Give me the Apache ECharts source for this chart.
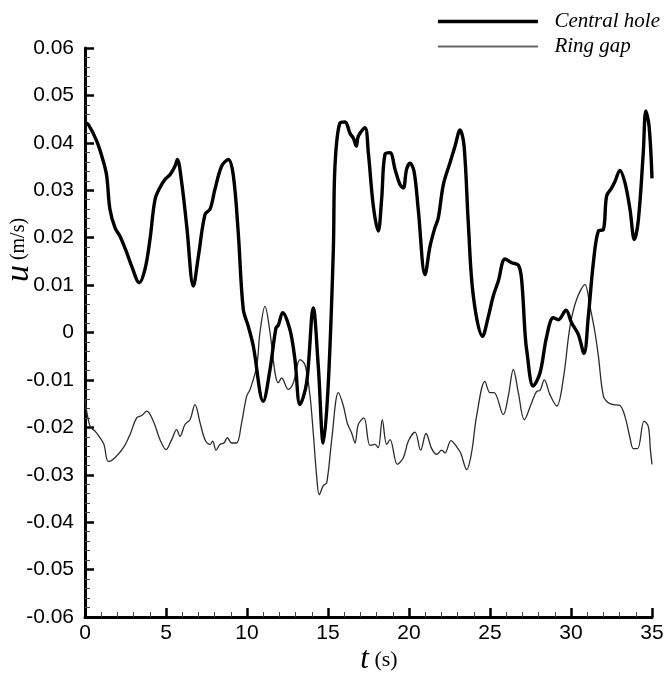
<!DOCTYPE html>
<html>
<head>
<meta charset="utf-8">
<script src="https://cdn.jsdelivr.net/npm/echarts@6/dist/echarts.min.js"></script>
<style>html,body{margin:0;padding:0;background:#fff;}#c{width:668px;height:676px;}</style>
</head>
<body>
<div id="c"></div>
<script>
const xTicks = [0, 5, 10, 15, 20, 25, 30, 35];
const yTicks = [-0.06, -0.05, -0.04, -0.03, -0.02, -0.01, 0, 0.01, 0.02, 0.03, 0.04, 0.05, 0.06];

const tCentral = [0, 0.2, 0.72, 1.13, 1.34, 1.54, 1.85, 2.16, 2.57, 2.88, 3.35, 3.70, 4.01, 4.32, 4.63, 4.94, 5.25, 5.56, 5.70, 5.97, 6.28, 6.69, 7.0, 7.41, 7.72, 8.02, 8.44, 8.85, 9.16, 9.46, 9.77, 10.08, 10.39, 11.0, 11.42, 11.79, 11.93, 12.2, 12.65, 12.96, 13.27, 13.68, 14.09, 14.40, 14.71, 15.02, 15.33, 15.43, 15.74, 16.05, 16.36, 16.56, 16.75, 16.87, 17.28, 17.49, 17.80, 18.1, 18.31, 18.52, 18.83, 19.14, 19.44, 19.65, 19.85, 20.06, 20.31, 20.57, 20.99, 21.3, 21.6, 21.81, 22.12, 22.53, 22.84, 23.15, 23.40, 23.66, 23.97, 24.54, 24.90, 25.2, 25.51, 25.93, 26.34, 26.75, 26.95, 27.16, 27.26, 27.67, 28.09, 28.5, 28.91, 29.22, 29.69, 30.04, 30.45, 30.80, 31.07, 31.38, 31.69, 32.0, 32.2, 32.51, 32.72, 33.02, 33.33, 33.64, 33.91, 34.16, 34.46, 34.62, 34.82, 35.0];
const uCentral = [0.0442, 0.0439, 0.0404, 0.0361, 0.033, 0.026, 0.0221, 0.0203, 0.0169, 0.014, 0.0105, 0.0133, 0.0196, 0.028, 0.0306, 0.0323, 0.0333, 0.0351, 0.0365, 0.0316, 0.0224, 0.0098, 0.0161, 0.0249, 0.026, 0.0302, 0.0351, 0.0365, 0.033, 0.021, 0.0049, 0.0013, -0.0029, -0.0145, -0.0078, 0.001, 0.0015, 0.0042, 0.0006, -0.0057, -0.0152, -0.0106, 0.0052, -0.0071, -0.0233, -0.0106, 0.0175, 0.0351, 0.0442, 0.0444, 0.042, 0.041, 0.0393, 0.0414, 0.0432, 0.0379, 0.0266, 0.0214, 0.0281, 0.0376, 0.0379, 0.0344, 0.0312, 0.0305, 0.0344, 0.0357, 0.034, 0.026, 0.0122, 0.0182, 0.0221, 0.0242, 0.0312, 0.0358, 0.0393, 0.0427, 0.0393, 0.0231, 0.0077, -0.0008, 0.0034, 0.0077, 0.0108, 0.0155, 0.0147, 0.0142, 0.0112, 0.0, -0.0036, -0.0113, -0.0085, -0.0008, 0.0031, 0.0027, 0.0047, 0.002, -0.0004, -0.0044, 0.0034, 0.0147, 0.0214, 0.0217, 0.0288, 0.0305, 0.0319, 0.0342, 0.0316, 0.026, 0.0196, 0.0238, 0.0379, 0.0467, 0.0435, 0.0325];

const tRing = [0, 0.31, 0.62, 0.93, 1.17, 1.44, 1.85, 2.37, 2.78, 3.19, 3.50, 3.81, 4.22, 4.63, 5.0, 5.35, 5.66, 5.86, 6.17, 6.48, 6.79, 7.1, 7.41, 7.72, 7.88, 8.09, 8.33, 8.58, 8.79, 9.05, 9.36, 9.67, 9.98, 10.19, 10.6, 10.8, 11.11, 11.42, 11.73, 11.93, 12.14, 12.55, 12.86, 13.27, 13.58, 13.89, 14.09, 14.30, 14.46, 14.71, 14.92, 15.23, 15.64, 15.95, 16.2, 16.46, 16.67, 16.87, 17.22, 17.59, 17.90, 18.1, 18.35, 18.62, 18.83, 19.28, 19.65, 19.96, 20.37, 20.72, 21.05, 21.40, 21.71, 22.02, 22.22, 22.59, 22.94, 23.19, 23.56, 23.86, 24.17, 24.69, 25.0, 25.25, 25.82, 26.13, 26.44, 26.75, 27.12, 27.57, 27.88, 28.09, 28.35, 28.70, 29.12, 29.52, 29.94, 30.35, 30.86, 31.17, 31.48, 31.69, 32.0, 32.3, 32.61, 33.02, 33.33, 33.64, 33.85, 34.11, 34.51, 34.77, 34.9, 35.0];
const uRing = [-0.0141, -0.0198, -0.0208, -0.0222, -0.0236, -0.0272, -0.0264, -0.0243, -0.0215, -0.018, -0.0175, -0.0166, -0.0187, -0.0226, -0.0247, -0.0226, -0.0205, -0.0219, -0.0194, -0.0184, -0.0152, -0.019, -0.0226, -0.0236, -0.0229, -0.0248, -0.0236, -0.0233, -0.0222, -0.0233, -0.0233, -0.019, -0.0134, -0.012, -0.0071, 0.0, 0.0055, 0.0, -0.0085, -0.0106, -0.0096, -0.012, -0.0106, -0.0057, -0.0068, -0.0134, -0.0212, -0.0303, -0.0342, -0.0323, -0.0317, -0.0226, -0.0127, -0.0155, -0.0192, -0.0212, -0.0233, -0.0194, -0.018, -0.0238, -0.0236, -0.0243, -0.0184, -0.0236, -0.0226, -0.0278, -0.0264, -0.0229, -0.021, -0.0248, -0.0213, -0.0245, -0.0257, -0.0248, -0.0254, -0.0228, -0.0241, -0.0254, -0.0289, -0.0254, -0.0177, -0.0103, -0.0127, -0.0127, -0.0173, -0.0134, -0.0078, -0.0127, -0.0184, -0.0148, -0.0124, -0.0122, -0.01, -0.0131, -0.0155, -0.0099, 0.0013, 0.007, 0.0101, 0.0055, 0.0, -0.005, -0.0134, -0.0148, -0.0152, -0.0154, -0.0177, -0.0222, -0.0245, -0.0245, -0.0187, -0.0198, -0.0247, -0.0278];

const seriesNames = ['Central hole', 'Ring gap'];

const pairs = (ts, us) => ts.map((t, i) => [t, us[i]]);

const chart = echarts.init(document.getElementById('c'), null, {renderer: 'canvas'});
const labelFont = 'Liberation Sans, Arial, sans-serif';
const serif = 'Liberation Serif, Times New Roman, serif';

// legend icons: a horizontal bar centred in a 100x14 box (tiny corner dots fix the box)
const barIcon = h => 'path://M0,0 H0.01 V0.01 H0 Z M0,' + (7 - h / 2) + ' H100 V' + (7 + h / 2) + ' H0 Z M0,13.99 H0.01 V14 H0 Z';

chart.setOption({
  animation: false,
  backgroundColor: '#fff',
  grid: {left: 85, right: 16, top: 48, bottom: 59, containLabel: false},
  legend: {
    orient: 'vertical',
    right: 3,
    top: 6,
    itemWidth: 101,
    itemHeight: 14,
    itemGap: 4,
    data: [
      {name: seriesNames[0], icon: barIcon(3.6), itemStyle: {color: '#000'}},
      {name: seriesNames[1], icon: barIcon(1.8), itemStyle: {color: '#666'}}
    ],
    textStyle: {fontFamily: serif, fontStyle: 'italic', fontSize: 21, color: '#000', padding: [0, 0, 0, 11]}
  },
  xAxis: {
    type: 'value',
    min: xTicks[0],
    max: xTicks[xTicks.length - 1],
    interval: 5,
    axisLine: {show: true, onZero: false, lineStyle: {color: '#000', width: 3}},
    axisTick: {show: true, inside: true, length: 9, lineStyle: {color: '#000', width: 2.5}},
    minorTick: {show: true, splitNumber: 5, length: 5, lineStyle: {color: '#444', width: 1}},
    splitLine: {show: false},
    axisLabel: {fontFamily: labelFont, fontSize: 21, color: '#000', margin: 6, showMaxLabel: true, showMinLabel: true}
  },
  yAxis: {
    type: 'value',
    min: yTicks[0],
    max: yTicks[yTicks.length - 1],
    interval: 0.01,
    axisLine: {show: true, onZero: false, lineStyle: {color: '#000', width: 3}},
    axisTick: {show: true, inside: true, length: 9, lineStyle: {color: '#000', width: 2.5}},
    minorTick: {show: true, splitNumber: 5, length: 5, lineStyle: {color: '#444', width: 1}},
    splitLine: {show: false},
    axisLabel: {
      fontFamily: labelFont, fontSize: 21, color: '#000', margin: 11,
      formatter: v => (Math.abs(v) < 1e-9 ? '0' : v.toFixed(2))
    }
  },
  graphic: [
    {
      type: 'text', x: 379, y: 660,
      style: {
        text: '{i|t}{n| (s)}',
        align: 'center', verticalAlign: 'middle',
        rich: {
          i: {fontFamily: serif, fontStyle: 'italic', fontSize: 31, fill: '#000'},
          n: {fontFamily: serif, fontSize: 22, fill: '#000'}
        }
      }
    },
    {
      type: 'text', x: 19, y: 250, rotation: Math.PI / 2,
      style: {
        text: '{i|u}{n| (m/s)}',
        align: 'center', verticalAlign: 'middle',
        rich: {
          i: {fontFamily: serif, fontStyle: 'italic', fontSize: 34, fill: '#000'},
          n: {fontFamily: serif, fontSize: 20, fill: '#000'}
        }
      }
    }
  ],
  series: [
    {
      name: seriesNames[0], type: 'line', data: pairs(tCentral, uCentral),
      showSymbol: false, symbol: 'none', smooth: 0.35, clip: false,
      lineStyle: {color: '#000', width: 3.4}, itemStyle: {color: '#000'}, z: 3
    },
    {
      name: seriesNames[1], type: 'line', data: pairs(tRing, uRing),
      showSymbol: false, symbol: 'none', smooth: 0.35, clip: false,
      lineStyle: {color: '#2b2b2b', width: 1.3}, itemStyle: {color: '#666'}, z: 2
    }
  ]
});
</script>
</body>
</html>
